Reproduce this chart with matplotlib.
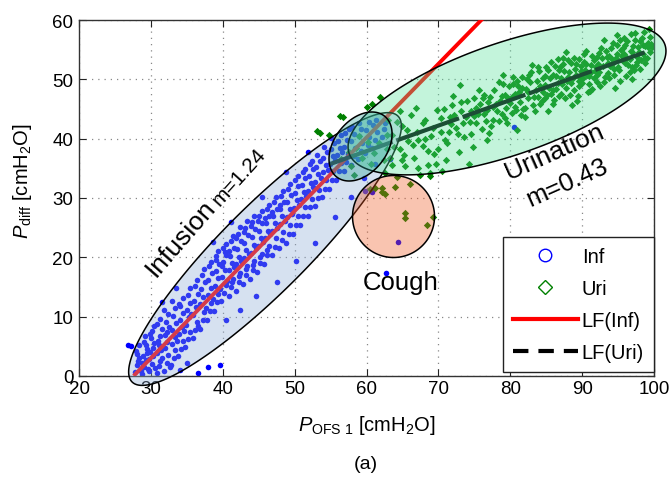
import matplotlib
matplotlib.use('Agg')
import numpy as np
import matplotlib.pyplot as plt
from matplotlib.patches import Polygon
from matplotlib.lines import Line2D

# ---------------- data ----------------
inf_pts = [
    (27.8,0.6),(28.1,1.9),(28.3,3.1),(27.9,4.2),(28.4,5.3),(28.2,2.5),(28.6,0.9),(28.0,3.7),
    (28.8,0.4),(29.1,1.5),(29.3,2.7),(28.9,3.4),(29.4,4.6),(29.0,5.7),(29.2,6.8),(29.6,1.1),(28.7,2.2),(29.5,3.9),(29.3,5.2),
    (29.8,0.8),(30.1,2.0),(30.3,3.3),(29.9,4.1),(30.4,5.5),(30.0,6.4),(30.2,7.6),(30.5,8.5),(29.7,2.9),(30.6,1.3),(30.3,4.8),(29.9,7.0),
    (30.8,0.5),(31.1,1.7),(31.3,2.6),(30.9,3.8),(31.4,4.4),(31.0,5.9),(31.2,6.7),(31.5,7.9),(30.8,8.8),(31.3,9.6),(31.6,3.1),(31.1,5.2),
    (31.8,0.9),(32.2,2.2),(32.4,3.6),(31.9,4.7),(32.3,5.8),(32.0,6.9),(32.5,8.2),(32.1,9.1),(32.4,10.4),(31.8,11.2),(32.6,1.5),(32.2,7.5),
    (32.8,1.8),(33.2,3.0),(33.4,4.3),(32.9,5.4),(33.3,6.6),(33.0,7.8),(33.5,8.9),(33.1,10.1),(33.4,11.4),(32.9,12.6),(33.6,5.9),
    (33.8,3.4),(34.2,4.6),(34.4,5.9),(33.9,7.1),(34.3,8.3),(34.0,9.4),(34.5,10.6),(34.1,11.8),(34.4,13.1),(34.6,7.6),(33.9,12.2),
    (34.8,4.9),(35.2,6.2),(35.4,7.4),(34.9,8.6),(35.3,9.9),(35.0,11.1),(35.5,12.3),(35.1,13.6),(35.4,14.8),(35.6,10.4),
    (35.8,6.4),(36.2,7.8),(36.4,9.1),(35.9,10.3),(36.3,11.6),(36.0,12.7),(36.5,13.9),(36.1,15.2),(36.4,16.1),(36.6,8.4),
    (36.8,8.0),(37.2,9.4),(37.4,10.8),(36.9,12.1),(37.3,13.3),(37.0,14.6),(37.5,15.8),(37.1,17.0),(37.4,18.1),(37.6,11.5),
    (37.8,9.5),(38.2,10.9),(38.4,12.3),(37.9,13.6),(38.3,14.8),(38.0,16.1),(38.5,17.3),(38.1,18.5),(38.4,19.2),(38.6,13.0),
    (38.8,11.0),(39.2,12.5),(39.4,13.8),(38.9,15.2),(39.3,16.5),(39.0,17.7),(39.5,18.9),(39.1,20.2),(39.4,21.1),(39.6,14.6),(39.0,19.5),
    (39.8,12.6),(40.2,14.0),(40.4,15.4),(39.9,16.7),(40.3,17.9),(40.0,19.2),(40.5,20.4),(40.1,21.6),(40.4,22.2),(40.6,16.0),(39.9,18.6),(40.3,20.9),
    (40.8,13.5),(41.2,15.0),(41.4,16.4),(40.9,17.8),(41.3,19.0),(41.0,20.3),(41.5,21.6),(41.1,22.8),(41.4,23.6),(41.6,18.4),(40.9,21.1),(41.3,15.8),
    (41.8,14.4),(42.2,15.9),(42.4,17.4),(41.9,18.8),(42.3,20.1),(42.0,21.4),(42.5,22.7),(42.1,24.0),(42.4,25.1),(42.6,19.4),(41.9,23.2),(42.2,16.8),
    (42.8,15.5),(43.2,17.0),(43.4,18.5),(42.9,19.9),(43.3,21.2),(43.0,22.5),(43.5,23.8),(43.1,25.0),(43.4,26.1),(43.6,20.6),(42.9,24.3),(43.2,18.0),
    (43.8,16.4),(44.2,17.9),(44.4,19.4),(43.9,20.8),(44.3,22.1),(44.0,23.4),(44.5,24.7),(44.1,25.9),(44.4,26.9),(44.6,21.5),(43.9,25.2),(44.2,18.7),
    (44.8,17.5),(45.2,19.0),(45.4,20.5),(44.9,21.9),(45.3,23.2),(45.0,24.5),(45.5,25.8),(45.1,26.9),(45.4,27.8),(45.6,22.6),(44.9,26.2),(45.2,20.0),
    (45.8,18.9),(46.2,20.4),(46.4,21.9),(45.9,23.2),(46.3,24.5),(46.0,25.8),(46.5,27.0),(46.1,28.2),(46.4,28.9),(46.6,23.9),(45.9,26.6),(46.2,21.2),
    (46.8,20.4),(47.2,21.8),(47.4,23.2),(46.9,24.5),(47.3,25.8),(47.0,27.0),(47.5,28.2),(47.1,29.3),(47.4,30.1),(47.6,24.9),(46.9,27.7),
    (47.8,21.5),(48.2,22.9),(48.4,24.3),(47.9,25.6),(48.3,26.9),(48.0,28.1),(48.5,29.3),(48.1,30.4),(48.4,31.2),(48.6,26.1),(47.9,28.8),
    (48.8,22.5),(49.2,24.0),(49.4,25.4),(48.9,26.8),(49.3,28.1),(49.0,29.3),(49.5,30.5),(49.1,31.6),(49.4,32.4),(49.6,27.3),
    (49.8,24.0),(50.2,25.5),(50.4,26.9),(49.9,28.3),(50.3,29.6),(50.0,30.8),(50.5,32.0),(50.1,33.1),(50.4,33.7),(50.6,28.8),
    (50.8,25.5),(51.2,27.0),(51.4,28.4),(50.9,29.8),(51.3,31.0),(51.0,32.2),(51.5,33.4),(51.1,34.4),(51.4,34.9),(51.6,30.4),
    (51.8,27.0),(52.2,28.5),(52.4,29.9),(51.9,31.2),(52.3,32.5),(52.0,33.7),(52.5,34.9),(52.1,35.8),(52.4,36.2),(52.6,31.8),
    (52.8,28.6),(53.2,30.0),(53.4,31.4),(52.9,32.7),(53.3,34.0),(53.0,35.2),(53.5,36.3),(53.1,37.3),(53.6,33.3),
    (53.8,30.1),(54.2,31.6),(54.4,33.0),(53.9,34.3),(54.3,35.5),(54.0,36.7),(54.5,37.8),(54.1,38.6),(54.6,34.8),
    (54.8,31.6),(55.2,33.1),(55.4,34.5),(54.9,35.8),(55.3,37.0),(55.0,38.2),(55.5,39.3),(55.1,40.1),(55.6,36.4),
    (55.8,33.0),(56.2,34.5),(56.4,35.9),(55.9,37.2),(56.3,38.4),(56.0,39.6),(56.5,40.6),(56.6,37.8),
    (56.8,34.5),(57.2,36.0),(57.4,37.4),(56.9,38.6),(57.3,39.8),(57.0,40.9),(57.5,41.6),
    (57.8,35.6),(58.2,37.1),(58.4,38.4),(57.9,39.6),(58.3,40.8),(58.0,41.9),
    (58.8,36.5),(59.2,38.0),(59.4,39.3),(58.9,40.5),(59.3,41.7),(59.0,42.6),
    (59.8,37.6),(60.2,39.0),(60.4,40.3),(59.9,41.5),(60.3,42.8),
    (60.8,38.4),(61.2,39.8),(61.4,41.1),(60.9,42.3),(61.3,43.2),
    (61.8,38.9),(62.2,40.2),(62.4,41.6),(62.6,42.6),
    (26.8,5.2),(27.3,5.0),(31.5,12.4),(33.5,14.8),(36.5,0.5),(38.0,1.5),(39.6,1.8),(35.0,2.2),(34.0,1.0),(40.5,9.5),
    (42.4,11.2),(44.6,13.5),(47.5,15.8),(50.2,19.4),(52.8,22.4),(55.6,26.8),(57.8,30.2),(59.6,33.4),(45.4,30.2),(48.8,34.4),
    (51.8,37.8),(38.6,22.6),(41.2,26.0),(80.5,42.0),(62.7,17.4),(64.4,22.6),(59.8,31.2),(60.8,31.0),(63.2,36.6),(61.2,35.8),
]

uri_pts = [
    (56.5,36.5),(57.5,37.8),(58.5,38.5),(59.4,36.8),(60.2,39.4),(61,37.6),(61.8,39.2),(62.4,36.4),(57.8,35.4),(59,40.4),
    (60.6,35.8),(58.2,33.8),(62.8,38.2),
    (62.6,34.2),(63.2,36.8),(63.6,40.6),(64.2,33.6),(64.6,38.2),(65,42.2),(65.4,35.4),(65.8,39.6),(66.2,44.0),(66.6,36.8),
    (67,41.2),(67.4,33.8),(67.8,38.8),(68.2,43.2),(68.6,35.6),(69,40.4),(69.4,37.4),(69.8,44.8),(63,43.2),(64,31.8),
    (66,32.4),(68.8,34.2),(70,38.2),(65.2,37.2),(67.2,39.8),(63.8,38.6),
    (70.4,41.2),(70.8,45.0),(71.2,39.2),(71.6,43.6),(72,47.2),(72.4,41.8),(72.8,37.8),(73.2,44.6),(73.6,40.2),(74,46.4),
    (74.4,42.8),(74.8,38.6),(75.2,45.2),(75.6,48.2),(76,41.6),(76.4,44.2),(76.8,39.8),(77.2,47.0),(77.6,43.2),(78,45.8),
    (71,36.4),(73,49.0),(75,43.8),(77,41.0),(78.4,49.6),(74.2,35.8),(72.2,44.0),(76.2,46.8),
    (78.8,44.2),(79.2,47.4),(79.6,42.6),(80,46.0),(80.4,49.2),(80.8,44.8),(81.2,47.8),(81.6,50.4),(82,43.6),(82.4,46.8),
    (82.8,49.6),(83.2,45.6),(83.6,48.2),(84,51.4),(84.4,46.4),(84.8,49.0),(85.2,44.6),(85.6,47.6),(86,50.8),(79,50.8),
    (81,41.4),(83,52.4),(85,52.0),(86,45.8),(82.2,48.4),(80.6,45.4),(84.2,48.8),(79.8,48.8),
    (86.4,48.4),(86.8,51.6),(87.2,49.2),(87.6,46.8),(88,50.4),(88.4,52.8),(88.8,48.2),(89.2,50.8),(89.6,53.4),(90,49.4),
    (90.4,51.6),(90.8,47.8),(91.2,52.4),(91.6,50.2),(92,53.8),(86.6,53.4),(87.8,54.6),(88.6,45.6),(89.4,47.2),(90.6,54.8),
    (91.4,48.4),(87,50.2),(88.2,51.2),(89.8,52.2),(91,50.6),(92,49.6),
    (92.4,51.2),(92.8,53.6),(93.2,50.4),(93.6,52.8),(94,55.2),(94.4,51.8),(94.8,54.2),(95.2,49.8),(95.6,53.2),(96,55.8),
    (96.4,52.4),(96.8,54.8),(97.2,51.6),(97.6,53.8),(98,56.4),(98.4,54.2),(98.8,52.8),(99.2,55.4),(99.4,57.2),(93,56.6),
    (94.6,48.6),(95.8,57.0),(97,50.0),(98.6,58.0),(93.8,54.0),(95,52.0),(96.2,53.6),(97.8,55.4),(92.6,55.2),(99,53.6),
    (84.6,50.2),(85.4,48.6),(86.2,52.2),(87.4,52.6),(88.8,53.6),(89.6,49.8),(90.2,53.0),(91.8,51.4),(92.2,52.6),(93.4,53.8),
    (94.2,52.6),(95.4,55.0),(96.6,51.2),(97.4,56.6),(98.2,53.2),(99.6,56.0),(93.6,51.0),(95.8,54.2),(97,54.6),(98.8,55.6),
    (91.4,54.0),(89,51.8),(87.8,48.6),(86.8,47.2),(94.8,57.4),(96.8,57.6),
    (71.8,42.4),(73.4,42.6),(74.6,44.6),(76.6,43.0),(78.6,46.4),(80.2,47.0),(81.8,45.0),(82.6,50.8),(83.8,47.0),(79.4,45.2),
    (75.3,42.6),(75.8,45.8),(76.3,47.4),(76.7,44.9),(77.3,42.2),(77.8,48.2),(78.2,44.6),(78.9,47.2),(79.3,43.4),(79.7,46.8),
    (75.5,44.2),(76.9,46.2),(77.6,45.4),(78.5,43.0),(79.0,49.2),
    (80.2,44.4),(80.6,47.6),(80.9,49.8),(81.3,46.2),(81.7,48.6),(82.1,45.2),(82.5,47.8),(82.9,51.2),(83.3,47.0),(83.7,49.8),
    (84.1,45.8),(84.5,47.8),(84.9,50.6),(81.5,44.0),(83.5,44.6),(84.8,46.8),(80.4,50.4),(82.3,50.0),(83.9,52.0),(81.1,48.8),
    (85.1,47.4),(85.5,50.2),(85.9,48.2),(86.3,50.6),(86.7,49.4),(87.1,47.6),(87.5,51.4),(87.9,49.8),(88.3,47.4),(88.7,50.2),
    (89.1,52.6),(89.5,48.8),(89.9,51.4),(85.3,51.6),(86.1,46.6),(87.3,53.6),(88.5,49.4),(89.3,46.4),(86.9,52.0),(88.1,53.2),
    (89.7,50.2),(85.7,53.0),
    (90.1,50.2),(90.5,52.6),(90.9,49.2),(91.3,51.2),(91.7,53.2),(92.1,50.8),(92.5,48.8),(92.9,52.2),(93.3,54.8),(93.7,50.2),
    (94.1,53.4),(94.5,50.8),(94.9,55.8),(90.3,54.2),(91.1,48.0),(92.3,54.4),(93.1,49.6),(94.3,56.2),(90.7,50.8),(91.9,52.0),
    (93.9,52.2),(94.7,53.6),
    (95.1,51.6),(95.5,54.0),(95.9,52.8),(96.3,56.4),(96.7,53.4),(97.1,55.6),(97.5,52.4),(97.9,54.6),(98.3,57.0),(98.7,53.6),
    (99.1,56.2),(99.5,54.6),(95.3,56.6),(96.1,50.6),(97.3,57.8),(98.1,51.8),(99.3,58.4),(96.9,52.0),(98.5,55.8),(95.7,55.2),
    (97.7,53.0),(99.7,55.4),
    (62.9,40.6),(63.5,35.6),(64.3,42.8),(64.9,36.4),(65.7,41.4),(66.5,39.0),(67.1,35.0),(67.9,42.6),(68.5,38.0),(69.3,41.8),
    (69.7,35.8),(70.3,43.4),(70.9,39.8),(71.5,41.2),(71.9,45.6),(72.7,40.8),(73.1,46.2),(73.9,43.6),(74.5,40.8),(74.9,46.8),
    (64.7,44.6),(66.9,45.2),(68.1,40.0),
    (53.1,41.3),(53.5,41.0),(56.3,43.8),(56.7,43.6),(60,45.3),(60.8,45.8),(61.9,47),(54.8,40.6),
    (60.5,31.5),(61.2,31.7),(62.2,31.7),(62.6,30.7),(65.4,27.5),(65.4,26.6),(69.3,26.8),(68.4,25.4),(68.8,33.7),(62.2,31.0),
    (70.5,34.6),
]

# linear fits: slope, intercept, x-range
inf_fit = (1.24, -34.2, 27.6, 80.0)
uri_fit = (0.43, 12.1, 54.9, 98.7)

legend_labels = ['Inf', 'Uri', 'LF(Inf)', 'LF(Uri)']
xticks = [20, 30, 40, 50, 60, 70, 80, 90, 100]
yticks = [0, 10, 20, 30, 40, 50, 60]

# ---------------- style ----------------
plt.rcParams['font.family'] = ['Liberation Sans', 'DejaVu Sans']
plt.rcParams['mathtext.fontset'] = 'custom'
plt.rcParams['mathtext.rm'] = 'Liberation Sans'
plt.rcParams['mathtext.it'] = 'Liberation Sans:italic'
plt.rcParams['mathtext.bf'] = 'Liberation Sans:bold'

W, H = 669, 481
fig = plt.figure(figsize=(W/100, H/100), dpi=100)
ax = fig.add_axes([79/W, 104/H, 575/W, 356/H])
ax.set_xlim(20, 100)
ax.set_ylim(0, 60)

inf_x = [p[0] for p in inf_pts]; inf_y = [p[1] for p in inf_pts]
uri_x = [p[0] for p in uri_pts]; uri_y = [p[1] for p in uri_pts]

ax.scatter(inf_x, inf_y, s=16, c='#0000ff', marker='o', linewidths=0, zorder=2)
ax.scatter(uri_x, uri_y, s=14, c='#008000', marker='D', linewidths=0, zorder=2)

m, b, x0, x1 = inf_fit
xs = np.array([x0, x1])
ax.plot(xs, m*xs + b, color='#ff0000', lw=2.8, zorder=3, solid_capstyle='butt')
m, b, x0, x1 = uri_fit
xs = np.array([x0, x1])
ax.plot(xs, m*xs + b, color='black', lw=3.0, zorder=3, dashes=(16, 0.9))

# ellipses defined in pixel space (semi-axes in px, angle in deg)
kx = 575 / 80.0
ky = 356 / 60.0
def ellipse(cx, cy, a, bb, ang, fc):
    t = np.linspace(0, 2*np.pi, 300)
    th = np.deg2rad(ang)
    dx = a*np.cos(t)*np.cos(th) - bb*np.sin(t)*np.sin(th)
    dy = a*np.cos(t)*np.sin(th) + bb*np.sin(t)*np.cos(th)
    pts = np.column_stack([cx + dx/kx, cy + dy/ky])
    ax.add_patch(Polygon(pts, closed=True, facecolor=fc, edgecolor='black',
                         lw=1.1, zorder=4, clip_on=False))

ellipse(45.88, 21.4, 188, 43, 45, (140/255, 171/255, 214/255, 0.35))
ellipse(79.55, 46.69, 167, 56, 19, (83/255, 226/255, 154/255, 0.35))
ellipse(59.17, 38.68, 38.7, 26.2, 52, (40/255, 160/255, 150/255, 0.35))
ellipse(63.76, 26.88, 41, 41, 0, (240/255, 86/255, 29/255, 0.35))

# annotations
ax.text(34.2, 23.4, 'Infusion', fontsize=19, rotation=49, rotation_mode='anchor',
        ha='center', va='center', zorder=6)
ax.text(42.3, 33.7, 'm=1.24', fontsize=15, rotation=48, rotation_mode='anchor',
        ha='center', va='center', zorder=6)
ax.text(86.2, 37.9, 'Urination', fontsize=19, rotation=24, rotation_mode='anchor',
        ha='center', va='center', zorder=6)
ax.text(87.9, 32.7, 'm=0.43', fontsize=18.5, rotation=24, rotation_mode='anchor',
        ha='center', va='center', zorder=6)
ax.text(64.7, 15.8, 'Cough', fontsize=18.5, ha='center', va='center', zorder=6)

# axes styling
ax.set_xticks(xticks)
ax.set_yticks(yticks)
ax.tick_params(direction='in', length=5, width=0.8, top=True, right=True,
               labelsize=13.5, colors='#222222', labelcolor='black')
ax.tick_params(axis='x', pad=3)
ax.tick_params(axis='y', pad=4)
for s in ax.spines.values():
    s.set_linewidth(1.0)
    s.set_color('#333333')
ax.grid(True, color='#888888', linestyle=(0, (1, 4)), linewidth=0.9)
ax.set_axisbelow(True)

ax.set_xlabel(r'$P_{\mathrm{OFS\ 1}}$ [cmH$_2$O]', fontsize=14.5)
ax.xaxis.set_label_coords(0.5, -0.105)
ax.set_ylabel(r'$P_{\mathrm{diff}}$ [cmH$_2$O]', fontsize=14.5)
ax.yaxis.set_label_coords(-0.078, 0.55)

fig.text(366/W, 1 - 465/H, '(a)', fontsize=14, ha='center', va='center')

# legend
handles = [
    Line2D([], [], ls='none', marker='o', ms=9, mfc='none', mec='#0000ff', mew=1.0),
    Line2D([], [], ls='none', marker='D', ms=7.5, mfc='none', mec='#008000', mew=1.0),
    Line2D([], [], color='#ff0000', lw=3),
    Line2D([], [], color='black', lw=3, dashes=(3.7, 2.4)),
]
leg = ax.legend(handles, legend_labels, loc='lower right', bbox_to_anchor=(1.0, 0.011),
                borderaxespad=0, fontsize=14.5, frameon=True, fancybox=False,
                edgecolor='#222222', framealpha=1, handlelength=3.2, handletextpad=0.2,
                labelspacing=0.65, borderpad=0.5)
leg.get_frame().set_linewidth(1.0)
leg.set_zorder(10)

fig.savefig('out.png', dpi=100)
